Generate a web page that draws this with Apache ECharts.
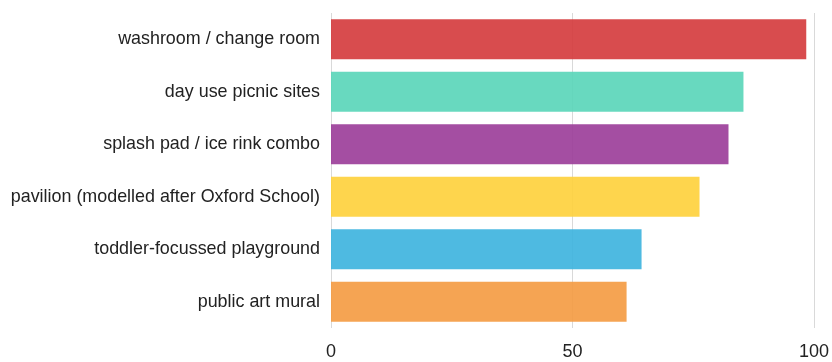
<!DOCTYPE html>
<html>
<head>
<meta charset="utf-8">
<script src="https://cdn.jsdelivr.net/npm/echarts@6/dist/echarts.min.js"></script>
<style>
  html, body { margin: 0; padding: 0; background: #fff; }
  #chart { width: 832px; height: 362px; }
</style>
</head>
<body>
<div id="chart"></div>
<script>
  // top to bottom as shown
  const categories = [
    'washroom / change room',
    'day use picnic sites',
    'splash pad / ice rink combo',
    'pavilion (modelled after Oxford School)',
    'toddler-focussed playground',
    'public art mural'
  ];
  const values = [98.4, 85.4, 82.3, 76.3, 64.3, 61.2];
  const colors = ['#d4393b', '#58d5b8', '#9a3b98', '#fed03a', '#3bb2de', '#f49a40'];
  const xTicks = [0, 50, 100];

  const myChart = echarts.init(document.getElementById('chart'));

  let data = [];
  for (let i = 0; i < values.length; i++) {
    data.push({ value: values[i], itemStyle: { color: colors[i] } });
  }

  let option = {
    animation: false,
    grid: { left: 331, right: 15, top: 13, bottom: 34 },
    xAxis: {
      type: 'value',
      min: xTicks[0],
      max: xTicks[xTicks.length - 1],
      interval: 50,
      axisLine: { show: false },
      axisTick: { show: false },
      axisLabel: {
        margin: 15,
        fontFamily: 'Liberation Sans',
        fontSize: 18,
        color: '#222'
      },
      splitLine: { lineStyle: { color: '#d9d9d9', width: 1 } }
    },
    yAxis: {
      type: 'category',
      inverse: true,
      data: categories,
      axisLine: { show: false },
      axisTick: { show: false },
      axisLabel: {
        margin: 11,
        fontFamily: 'Liberation Sans',
        fontSize: 17.9,
        color: '#222'
      }
    },
    series: [
      {
        type: 'bar',
        data: data,
        barCategoryGap: '24%',
        itemStyle: { opacity: 0.9 }
      }
    ]
  };

  myChart.setOption(option);
</script>
</body>
</html>
